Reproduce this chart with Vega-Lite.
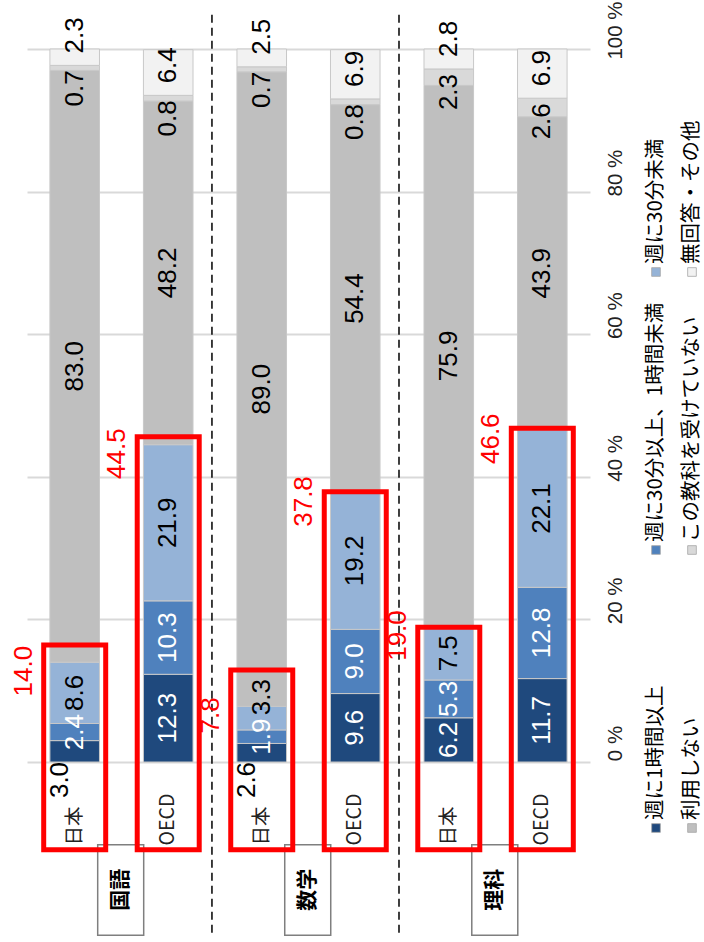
{
  "$schema": "https://vega.github.io/schema/vega-lite/v6.json",
  "autosize": {"type": "none"},
  "padding": {"left": 27, "top": 49, "right": 114, "bottom": 180},
  "width": 563,
  "height": 713,
  "background": "white",
  "config": {"view": {"stroke": null}, "text": {"font": "Liberation Sans"}},
  "datasets": {
    "shares": [
      {"subject": "国語", "country": "日本", "category": "週に1時間以上", "value": 3.0},
      {"subject": "国語", "country": "日本", "category": "週に30分以上、1時間未満", "value": 2.4},
      {"subject": "国語", "country": "日本", "category": "週に30分未満", "value": 8.6},
      {"subject": "国語", "country": "日本", "category": "利用しない", "value": 83.0},
      {"subject": "国語", "country": "日本", "category": "この教科を受けていない", "value": 0.7},
      {"subject": "国語", "country": "日本", "category": "無回答・その他", "value": 2.3},
      {"subject": "国語", "country": "OECD", "category": "週に1時間以上", "value": 12.3},
      {"subject": "国語", "country": "OECD", "category": "週に30分以上、1時間未満", "value": 10.3},
      {"subject": "国語", "country": "OECD", "category": "週に30分未満", "value": 21.9},
      {"subject": "国語", "country": "OECD", "category": "利用しない", "value": 48.2},
      {"subject": "国語", "country": "OECD", "category": "この教科を受けていない", "value": 0.8},
      {"subject": "国語", "country": "OECD", "category": "無回答・その他", "value": 6.4},
      {"subject": "数学", "country": "日本", "category": "週に1時間以上", "value": 2.6},
      {"subject": "数学", "country": "日本", "category": "週に30分以上、1時間未満", "value": 1.9},
      {"subject": "数学", "country": "日本", "category": "週に30分未満", "value": 3.3},
      {"subject": "数学", "country": "日本", "category": "利用しない", "value": 89.0},
      {"subject": "数学", "country": "日本", "category": "この教科を受けていない", "value": 0.7},
      {"subject": "数学", "country": "日本", "category": "無回答・その他", "value": 2.5},
      {"subject": "数学", "country": "OECD", "category": "週に1時間以上", "value": 9.6},
      {"subject": "数学", "country": "OECD", "category": "週に30分以上、1時間未満", "value": 9.0},
      {"subject": "数学", "country": "OECD", "category": "週に30分未満", "value": 19.2},
      {"subject": "数学", "country": "OECD", "category": "利用しない", "value": 54.4},
      {"subject": "数学", "country": "OECD", "category": "この教科を受けていない", "value": 0.8},
      {"subject": "数学", "country": "OECD", "category": "無回答・その他", "value": 6.9},
      {"subject": "理科", "country": "日本", "category": "週に1時間以上", "value": 6.2},
      {"subject": "理科", "country": "日本", "category": "週に30分以上、1時間未満", "value": 5.3},
      {"subject": "理科", "country": "日本", "category": "週に30分未満", "value": 7.5},
      {"subject": "理科", "country": "日本", "category": "利用しない", "value": 75.9},
      {"subject": "理科", "country": "日本", "category": "この教科を受けていない", "value": 2.3},
      {"subject": "理科", "country": "日本", "category": "無回答・その他", "value": 2.8},
      {"subject": "理科", "country": "OECD", "category": "週に1時間以上", "value": 11.7},
      {"subject": "理科", "country": "OECD", "category": "週に30分以上、1時間未満", "value": 12.8},
      {"subject": "理科", "country": "OECD", "category": "週に30分未満", "value": 22.1},
      {"subject": "理科", "country": "OECD", "category": "利用しない", "value": 43.9},
      {"subject": "理科", "country": "OECD", "category": "この教科を受けていない", "value": 2.6},
      {"subject": "理科", "country": "OECD", "category": "無回答・その他", "value": 6.9}
    ],
    "highlights": [
      {"subject": "国語", "country": "日本", "total": 14.0, "boxTop": 16.4},
      {"subject": "国語", "country": "OECD", "total": 44.5, "boxTop": 45.6},
      {"subject": "数学", "country": "日本", "total": 7.8, "boxTop": 12.9},
      {"subject": "数学", "country": "OECD", "total": 37.8, "boxTop": 37.9},
      {"subject": "理科", "country": "日本", "total": 19.0, "boxTop": 18.9},
      {"subject": "理科", "country": "OECD", "total": 46.6, "boxTop": 46.8}
    ],
    "subjects": [
      {"subject": "国語"},
      {"subject": "数学"},
      {"subject": "理科"}
    ]
  },
  "layer": [
    {
      "layer": [
        {
          "data": {"name": "shares"},
          "transform": [
            {"calculate": "datum.subject + '_' + datum.country", "as": "key"},
            {"calculate": "indexof(['週に1時間以上','週に30分以上、1時間未満','週に30分未満','利用しない','この教科を受けていない','無回答・その他'], datum.category) + 1", "as": "order"},
            {"stack": "value", "groupby": ["key"], "sort": [{"field": "order", "order": "ascending"}], "as": ["v0", "v1"]},
            {"calculate": "(datum.v0 + datum.v1) / 2", "as": "mid"}
          ],
          "layer": [
            {
              "mark": {"type": "bar", "stroke": "#c8c8c8", "strokeWidth": 1},
              "encoding": {
                "x": {
                  "field": "key", "type": "nominal", "title": null,
                  "scale": {"domain": ["国語_日本", "国語_OECD", "数学_日本", "数学_OECD", "理科_日本", "理科_OECD"], "paddingInner": 0.47, "paddingOuter": 0.245},
                  "axis": {
                    "orient": "bottom", "labelExpr": "slice(datum.value, 3)", "labelAngle": -90,
                    "labelAlign": "left", "labelBaseline": "middle", "labelPadding": 83,
                    "ticks": false, "tickSize": 0, "domain": false, "grid": false,
                    "labelFont": "Noto Sans CJK JP", "labelFontSize": 19.5, "labelColor": "#222222"
                  }
                },
                "y": {
                  "field": "v0", "type": "quantitative", "title": null,
                  "scale": {"domain": [0, 100], "nice": false},
                  "axis": {
                    "orient": "right", "values": [0, 20, 40, 60, 80, 100],
                    "labelExpr": "datum.value + ' %'", "labelAngle": -90,
                    "labelAlign": "center", "labelBaseline": "middle", "labelPadding": 25, "labelOffset": -19,
                    "labelFont": "Liberation Sans", "labelFontSize": 20.5, "labelColor": "#222222",
                    "ticks": false, "domain": false, "grid": true, "gridColor": "#d9d9d9", "gridWidth": 2
                  }
                },
                "y2": {"field": "v1"},
                "color": {
                  "field": "category", "type": "nominal", "legend": null,
                  "scale": {
                    "domain": ["週に1時間以上", "週に30分以上、1時間未満", "週に30分未満", "利用しない", "この教科を受けていない", "無回答・その他"],
                    "range": ["#1f497d", "#4f81bd", "#95b3d7", "#bfbfbf", "#d9d9d9", "#f2f2f2"]
                  }
                }
              }
            },
            {
              "transform": [{"filter": "datum.order <= 4 && !((datum.order == 1 || datum.order == 3) && datum.value < 5)"}],
              "mark": {"type": "text", "angle": -90, "align": "center", "baseline": "middle", "fontSize": 26},
              "encoding": {
                "x": {"field": "key", "type": "nominal", "title": null, "scale": {"domain": ["国語_日本", "国語_OECD", "数学_日本", "数学_OECD", "理科_日本", "理科_OECD"], "paddingInner": 0.47, "paddingOuter": 0.245}},
                "y": {"field": "mid", "type": "quantitative", "title": null, "scale": {"domain": [0, 100], "nice": false}},
                "text": {"field": "value", "format": ".1f"},
                "color": {"condition": {"test": "datum.order <= 2", "value": "white"}, "value": "black"}
              }
            },
            {
              "transform": [{"filter": "datum.order == 1 && datum.value < 5"}],
              "mark": {"type": "text", "angle": -90, "align": "center", "baseline": "middle", "fontSize": 26, "color": "black", "xOffset": -15, "yOffset": 18},
              "encoding": {
                "x": {"field": "key", "type": "nominal", "title": null, "scale": {"domain": ["国語_日本", "国語_OECD", "数学_日本", "数学_OECD", "理科_日本", "理科_OECD"], "paddingInner": 0.47, "paddingOuter": 0.245}},
                "y": {"field": "v0", "type": "quantitative", "title": null, "scale": {"domain": [0, 100], "nice": false}},
                "text": {"field": "value", "format": ".1f"}
              }
            },
            {
              "transform": [{"filter": "datum.order == 3 && datum.value < 5"}],
              "mark": {"type": "text", "angle": -90, "align": "center", "baseline": "middle", "fontSize": 26, "color": "black", "yOffset": -21},
              "encoding": {
                "x": {"field": "key", "type": "nominal", "title": null, "scale": {"domain": ["国語_日本", "国語_OECD", "数学_日本", "数学_OECD", "理科_日本", "理科_OECD"], "paddingInner": 0.47, "paddingOuter": 0.245}},
                "y": {"field": "mid", "type": "quantitative", "title": null, "scale": {"domain": [0, 100], "nice": false}},
                "text": {"field": "value", "format": ".1f"}
              }
            },
            {
              "transform": [{"filter": "datum.order == 5"}],
              "mark": {"type": "text", "angle": -90, "align": "right", "baseline": "middle", "fontSize": 26, "color": "black", "yOffset": 5},
              "encoding": {
                "x": {"field": "key", "type": "nominal", "title": null, "scale": {"domain": ["国語_日本", "国語_OECD", "数学_日本", "数学_OECD", "理科_日本", "理科_OECD"], "paddingInner": 0.47, "paddingOuter": 0.245}},
                "y": {"field": "v1", "type": "quantitative", "title": null, "scale": {"domain": [0, 100], "nice": false}},
                "text": {"field": "value", "format": ".1f"}
              }
            },
            {
              "transform": [{"filter": "datum.order == 6"}],
              "mark": {"type": "text", "angle": -90, "align": "left", "baseline": "middle", "fontSize": 26, "color": "black", "yOffset": -12},
              "encoding": {
                "x": {"field": "key", "type": "nominal", "title": null, "scale": {"domain": ["国語_日本", "国語_OECD", "数学_日本", "数学_OECD", "理科_日本", "理科_OECD"], "paddingInner": 0.47, "paddingOuter": 0.245}},
                "y": {"field": "v0", "type": "quantitative", "title": null, "scale": {"domain": [0, 100], "nice": false}},
                "text": {"field": "value", "format": ".1f"}
              }
            }
          ]
        },
        {
          "data": {"name": "subjects"},
          "transform": [{"calculate": "datum.subject + '_日本'", "as": "key"}],
          "layer": [
            {
              "transform": [{"filter": "datum.subject != '国語'"}],
              "mark": {"type": "rule", "strokeDash": [8, 5], "strokeWidth": 1.5, "color": "black", "xOffset": -25},
              "encoding": {
                "x": {"field": "key", "type": "nominal", "bandPosition": 0, "title": null, "scale": {"domain": ["国語_日本", "国語_OECD", "数学_日本", "数学_OECD", "理科_日本", "理科_OECD"], "paddingInner": 0.47, "paddingOuter": 0.245}},
                "y": {"datum": 104.8, "type": "quantitative", "title": null, "scale": {"domain": [0, 100], "nice": false}},
                "y2": {"datum": -24.3}
              }
            },
            {
              "mark": {"type": "bar", "fill": "white", "stroke": "#7f7f7f", "strokeWidth": 1.5, "width": 46, "xOffset": 46},
              "encoding": {
                "x": {"field": "key", "type": "nominal", "title": null, "scale": {"domain": ["国語_日本", "国語_OECD", "数学_日本", "数学_OECD", "理科_日本", "理科_OECD"], "paddingInner": 0.47, "paddingOuter": 0.245}},
                "y": {"datum": -11.6, "type": "quantitative", "title": null, "scale": {"domain": [0, 100], "nice": false}},
                "y2": {"datum": -24.3}
              }
            },
            {
              "mark": {"type": "text", "angle": -90, "align": "center", "baseline": "middle", "font": "Noto Sans CJK JP", "fontWeight": "bold", "fontSize": 21, "color": "black", "xOffset": 46},
              "encoding": {
                "x": {"field": "key", "type": "nominal", "title": null, "scale": {"domain": ["国語_日本", "国語_OECD", "数学_日本", "数学_OECD", "理科_日本", "理科_OECD"], "paddingInner": 0.47, "paddingOuter": 0.245}},
                "y": {"datum": -17.9, "type": "quantitative", "title": null, "scale": {"domain": [0, 100], "nice": false}},
                "text": {"field": "subject"}
              }
            }
          ]
        },
        {
          "data": {"name": "highlights"},
          "transform": [{"calculate": "datum.subject + '_' + datum.country", "as": "key"}],
          "layer": [
            {
              "mark": {"type": "bar", "filled": false, "stroke": "#ff0000", "strokeWidth": 5, "width": 62},
              "encoding": {
                "x": {"field": "key", "type": "nominal", "title": null, "scale": {"domain": ["国語_日本", "国語_OECD", "数学_日本", "数学_OECD", "理科_日本", "理科_OECD"], "paddingInner": 0.47, "paddingOuter": 0.245}},
                "y": {"field": "boxTop", "type": "quantitative", "title": null, "scale": {"domain": [0, 100], "nice": false}},
                "y2": {"datum": -12.3}
              }
            },
            {
              "mark": {"type": "text", "angle": -90, "align": "center", "baseline": "middle", "fontSize": 26, "color": "#ff0000", "xOffset": -51, "yOffset": 9},
              "encoding": {
                "x": {"field": "key", "type": "nominal", "title": null, "scale": {"domain": ["国語_日本", "国語_OECD", "数学_日本", "数学_OECD", "理科_日本", "理科_OECD"], "paddingInner": 0.47, "paddingOuter": 0.245}},
                "y": {"field": "total", "type": "quantitative", "title": null, "scale": {"domain": [0, 100], "nice": false}},
                "text": {"field": "total", "format": ".1f"}
              }
            }
          ]
        }
      ]
    },
    {
      "data": {"name": "shares"},
      "transform": [
        {"aggregate": [{"op": "count", "as": "n"}], "groupby": ["category"]},
        {"calculate": "indexof(['週に1時間以上','週に30分以上、1時間未満','週に30分未満','利用しない','この教科を受けていない','無回答・その他'], datum.category) + 1", "as": "order"},
        {"calculate": "floor((datum.order - 1) / 3)", "as": "lrow"},
        {"calculate": "(datum.order - 1) % 3", "as": "lpos"}
      ],
      "layer": [
        {
          "mark": {"type": "square", "size": 75, "filled": true, "opacity": 1, "stroke": "#a6a6a6", "strokeWidth": 0.8},
          "encoding": {
            "x": {"field": "lrow", "type": "ordinal", "axis": null, "scale": {"type": "point", "domain": [0, 1], "range": [629, 665], "padding": 0}},
            "y": {"field": "lpos", "type": "ordinal", "axis": null, "scale": {"type": "point", "domain": [0, 1, 2], "range": [779, 223], "padding": 0}},
            "color": {
              "field": "category", "type": "nominal", "legend": null,
              "scale": {
                "domain": ["週に1時間以上", "週に30分以上、1時間未満", "週に30分未満", "利用しない", "この教科を受けていない", "無回答・その他"],
                "range": ["#1f497d", "#4f81bd", "#95b3d7", "#bfbfbf", "#d9d9d9", "#f2f2f2"]
              }
            }
          }
        },
        {
          "mark": {"type": "text", "angle": -90, "align": "left", "baseline": "middle", "font": "Noto Sans CJK JP", "fontSize": 20.5, "color": "black", "yOffset": -8},
          "encoding": {
            "x": {"field": "lrow", "type": "ordinal", "axis": null, "scale": {"type": "point", "domain": [0, 1], "range": [629, 665], "padding": 0}},
            "y": {"field": "lpos", "type": "ordinal", "axis": null, "scale": {"type": "point", "domain": [0, 1, 2], "range": [779, 223], "padding": 0}},
            "text": {"field": "category"}
          }
        }
      ]
    }
  ],
  "resolve": {"scale": {"x": "independent", "y": "independent"}}
}
